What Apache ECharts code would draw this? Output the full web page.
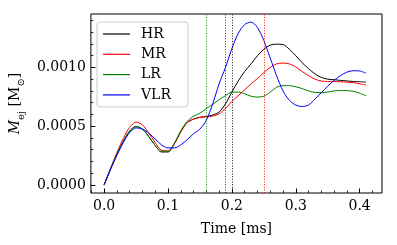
<!DOCTYPE html>
<html><head><meta charset="utf-8">
<script src="https://cdn.jsdelivr.net/npm/echarts@6/dist/echarts.min.js"></script>
<style>html,body{margin:0;padding:0;background:#fff}#c{width:397px;height:245px}</style>
</head><body><div id="c"></div>
<script>
// Time [ms]
const times = [0,0.01,0.02,0.03,0.04,0.05,0.06,0.07,0.08,0.09,0.10,0.11,0.12,0.13,0.14,0.15,0.16,0.17,0.18,0.19,0.20,0.21,0.22,0.23,0.24,0.25,0.26,0.27,0.28,0.29,0.30,0.31,0.32,0.33,0.34,0.35,0.36,0.37,0.38,0.39,0.40,0.41];
// M_ej in units of 1e-4 Msun
const HR  = [0,1.35,2.6,3.7,4.6,4.97,4.75,4.1,3.35,2.8,2.8,3.5,4.55,5.3,5.6,5.75,5.82,5.95,6.2,6.9,7.9,8.85,9.65,10.3,11.0,11.55,11.9,11.98,11.95,11.55,11.0,10.4,9.9,9.45,9.15,9.0,8.95,8.9,8.85,8.8,8.78,8.75];
const MR  = [0,1.4,2.75,3.95,4.9,5.35,5.1,4.4,3.6,2.95,2.9,3.5,4.5,5.3,5.6,5.75,5.8,5.85,6.05,6.5,7.1,7.6,8.1,8.6,9.05,9.55,10.0,10.3,10.37,10.3,10.05,9.65,9.3,9.0,8.85,8.8,8.8,8.78,8.75,8.7,8.6,8.5];
const LR  = [0,1.35,2.6,3.7,4.55,4.95,4.75,4.1,3.35,2.85,2.85,3.55,4.6,5.4,5.85,6.1,6.5,6.85,7.25,7.6,7.9,7.9,7.75,7.55,7.47,7.55,7.9,8.3,8.45,8.45,8.35,8.2,8.0,7.87,7.85,7.9,8.0,8.03,8.02,7.97,7.8,7.6];
const VLR = [0,1.3,2.5,3.6,4.45,4.85,4.75,4.4,3.9,3.4,3.15,3.15,3.4,3.85,4.35,4.75,5.5,6.9,8.6,10.0,11.6,12.9,13.65,13.86,13.4,12.3,10.8,9.3,8.0,7.2,6.8,6.67,6.8,7.3,7.85,8.4,8.9,9.3,9.6,9.72,9.7,9.5];
// vertical marker times [ms]
const markHR = 0.198, markMR = 0.248, markLR = 0.16, markVLR = 0.189;
const xMajor = [0,0.1,0.2,0.3,0.4];
const xMinor = [-0.02,0,0.02,0.04,0.06,0.08,0.1,0.12,0.14,0.16,0.18,0.2,0.22,0.24,0.26,0.28,0.3,0.32,0.34,0.36,0.38,0.4,0.42];
const yMajor = [0,0.0005,0.001];
const yMinor = [0,0.0001,0.0002,0.0003,0.0004,0.0005,0.0006,0.0007,0.0008,0.0009,0.001,0.0011,0.0012,0.0013,0.0014];

const FONT = 'DejaVu Serif';
const XMIN = -0.0207, XMAX = 0.435, YMIN = -0.0000693, YMAX = 0.001455;

function mk(name, arr, color, mx) {
  return {
    name, type: 'line', symbol: 'none', smooth: 0.3,
    data: times.map((t, i) => [t, arr[i] * 1e-4]),
    lineStyle: { color, width: 1 }, itemStyle: { color },
    markLine: { silent: true, symbol: 'none', label: { show: false },
      lineStyle: { color, width: 1, type: [1, 1.65], opacity: 0.9 },
      data: [{ xAxis: mx }] }
  };
}
const chart = echarts.init(document.getElementById('c'));
chart.setOption({
  animation: false,
  backgroundColor: '#fff',
  grid: { left: 89, top: 14, right: 15, bottom: 52, show: true, borderColor: '#000', borderWidth: 1, backgroundColor: 'transparent' },
  legend: {
    orient: 'vertical', left: 97, top: 22, padding: [5, 17, 5, 6],
    icon: 'rect', itemWidth: 27, itemHeight: 1.2, itemGap: 6.3,
    backgroundColor: 'rgba(255,255,255,0.8)', borderColor: '#cccccc', borderWidth: 1, borderRadius: 3,
    textStyle: { fontFamily: FONT, fontSize: 14, color: '#000', padding: [0, 0, 0, 6] },
    data: ['HR', 'MR', 'LR', 'VLR']
  },
  xAxis: [
    { type: 'value', min: XMIN, max: XMAX,
      name: 'Time [ms]', nameLocation: 'middle', nameGap: 29,
      nameTextStyle: { fontFamily: FONT, fontSize: 14, color: '#000' },
      axisLine: { show: false, onZero: false }, splitLine: { show: false },
      axisTick: { show: true, inside: true, length: 4.5, customValues: xMajor, lineStyle: { color: '#000', width: 1 } },
      axisLabel: { customValues: xMajor, margin: 6, fontFamily: FONT, fontSize: 14, color: '#000', formatter: v => v.toFixed(1) } },
    { type: 'value', min: XMIN, max: XMAX, position: 'bottom',
      axisLine: { show: false, onZero: false }, splitLine: { show: false }, axisLabel: { show: false },
      axisTick: { show: true, inside: true, length: 2.5, customValues: xMinor, lineStyle: { color: '#000', width: 0.8 } } }
  ],
  yAxis: [
    { type: 'value', min: YMIN, max: YMAX,
      name: '{i|M}{s|ej} [M{s|⊙}]', nameLocation: 'middle', nameGap: 47, nameRotate: 90,
      nameTextStyle: { fontFamily: FONT, fontSize: 14, color: '#000',
        rich: {
          i: { fontFamily: FONT, fontSize: 14, fontStyle: 'italic', lineHeight: 22 },
          s: { fontFamily: FONT, fontSize: 10, lineHeight: 12, verticalAlign: 'bottom' }
        } },
      axisLine: { show: false, onZero: false }, splitLine: { show: false },
      axisTick: { show: true, inside: true, length: 4.5, customValues: yMajor, lineStyle: { color: '#000', width: 1 } },
      axisLabel: { customValues: yMajor, margin: 5, fontFamily: FONT, fontSize: 14, color: '#000', formatter: v => v.toFixed(4) } },
    { type: 'value', min: YMIN, max: YMAX, position: 'left',
      axisLine: { show: false, onZero: false }, splitLine: { show: false }, axisLabel: { show: false },
      axisTick: { show: true, inside: true, length: 2.5, customValues: yMinor, lineStyle: { color: '#000', width: 0.8 } } }
  ],
  series: [
    mk('HR', HR, '#000000', markHR),
    mk('MR', MR, '#ff0000', markMR),
    mk('LR', LR, '#008000', markLR),
    mk('VLR', VLR, '#0000ff', markVLR)
  ]
});
</script></body></html>
